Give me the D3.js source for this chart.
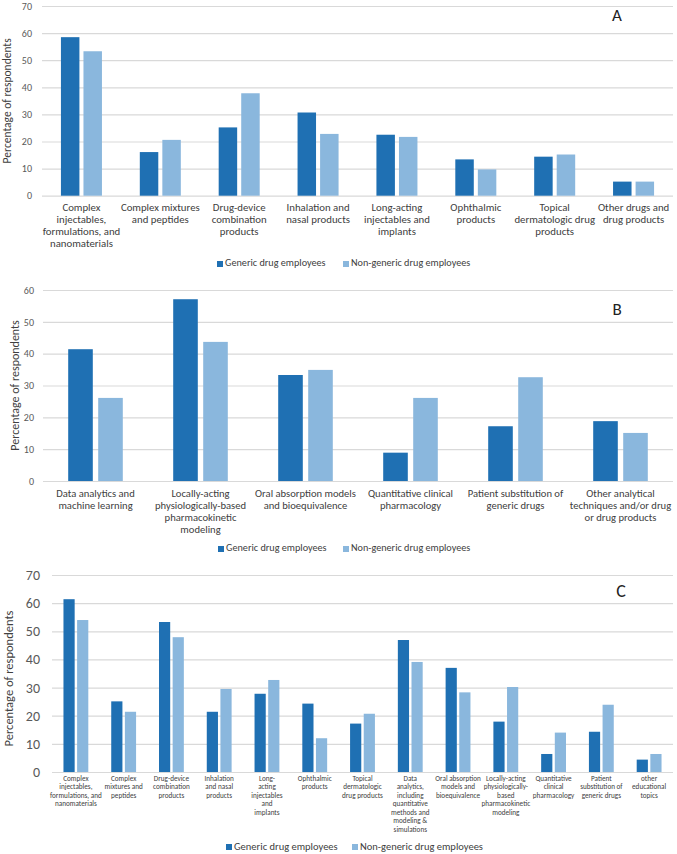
<!DOCTYPE html>
<html>
<head>
<meta charset="utf-8">
<script src="https://cdn.jsdelivr.net/npm/d3@7"></script>
<style>
  html, body { margin: 0; padding: 0; background: #fff; }
  svg text { font-family: Carlito, Calibri, Lato, "Open Sans", sans-serif; }
</style>
</head>
<body>
<svg id="chart" width="677" height="854"></svg>
<script>
// ---------- DATA ----------
const seriesNames = ["Generic drug employees", "Non-generic drug employees"];

const categoriesA = [
  "Complex|injectables,|formulations, and|nanomaterials",
  "Complex mixtures|and peptides",
  "Drug-device|combination|products",
  "Inhalation and|nasal products",
  "Long-acting|injectables and|implants",
  "Ophthalmic|products",
  "Topical|dermatologic drug|products",
  "Other drugs and|drug products"
];
const genericA    = [58.5, 16.1, 25.2, 30.7, 22.5, 13.4, 14.4, 5.2];
const nonGenericA = [53.3, 20.6, 37.8, 22.8, 21.7, 9.7, 15.2, 5.2];
const ticksA = [0, 10, 20, 30, 40, 50, 60, 70];

const categoriesB = [
  "Data analytics and|machine learning",
  "Locally-acting|physiologically-based|pharmacokinetic|modeling",
  "Oral absorption models|and bioequivalence",
  "Quantitative clinical|pharmacology",
  "Patient substitution of|generic drugs",
  "Other analytical|techniques and/or drug|or drug products"
];
const genericB    = [41.4, 57.1, 33.3, 8.9, 17.2, 18.8];
const nonGenericB = [26.1, 43.7, 34.9, 26.1, 32.6, 15.1];
const ticksB = [0, 10, 20, 30, 40, 50, 60];

const categoriesC = [
  "Complex|injectables,|formulations, and|nanomaterials",
  "Complex|mixtures and|peptides",
  "Drug-device|combination|products",
  "Inhalation|and nasal|products",
  "Long-|acting|injectables|and|implants",
  "Ophthalmic|products",
  "Topical|dermatologic|drug products",
  "Data|analytics,|including|quantitative|methods and|modeling &|simulations",
  "Oral absorption|models and|bioequivalence",
  "Locally-acting|physiologically-|based|pharmacokinetic|modeling",
  "Quantitative|clinical|pharmacology",
  "Patient|substitution of|generic drugs",
  "other|educational|topics"
];
const genericC    = [61.4, 25.1, 53.3, 21.4, 27.8, 24.3, 17.2, 46.9, 37.0, 17.9, 6.4, 14.3, 4.4];
const nonGenericC = [54.0, 21.4, 47.9, 29.5, 32.7, 12.0, 20.7, 39.1, 28.3, 30.2, 14.0, 23.9, 6.4];
const ticksC = [0, 10, 20, 30, 40, 50, 60, 70];

// ---------- STYLE ----------
const colors = ["#1f70b3", "#8ab7dd"];
const gridColor = "#d9d9d9";
const textColor = "#404040";

const svg = d3.select("#chart");

function drawPanel(p) {
  const g = svg.append("g");
  const x0 = d3.scaleBand().domain(d3.range(p.cats.length)).range([p.left, p.right]).padding(0);
  const bw = x0.bandwidth();
  const x1 = d3.scaleBand().domain([0, 1]).range([bw * 0.24, bw * 0.76]).paddingInner(0.18).paddingOuter(0);
  const y = d3.scaleLinear().domain([0, d3.max(p.ticks)]).range([p.bottom, p.top]);

  const axis = d3.axisLeft(y).tickValues(p.ticks).tickSize(-(p.right - p.left)).tickPadding(p.tickPad);
  const ax = g.append("g").attr("transform", `translate(${p.left},0)`).call(axis);
  ax.select(".domain").remove();
  ax.selectAll(".tick line").attr("stroke", gridColor).attr("stroke-width", 1.2);
  ax.selectAll(".tick text").attr("fill", "#595959").style("font-size", p.tickFont + "px");

  const rows = p.cats.map((c, i) => ({ i, vals: [p.g[i], p.ng[i]] }));
  const grp = g.selectAll(".cat").data(rows).join("g")
    .attr("transform", d => `translate(${x0(d.i)},0)`);
  grp.selectAll("rect").data(d => d.vals.map((v, k) => ({ v, k }))).join("rect")
    .attr("x", d => x1(d.k))
    .attr("width", x1.bandwidth())
    .attr("y", d => y(d.v))
    .attr("height", d => y(0) - y(d.v))
    .attr("fill", d => colors[d.k]);

  const lab = g.selectAll(".lab").data(p.cats).join("text")
    .attr("text-anchor", "middle")
    .attr("fill", textColor)
    .style("font-size", p.catFont + "px")
    .attr("transform", (d, i) => `translate(${x0(i) + bw / 2},${p.labY})`);
  lab.each(function(d) {
    d3.select(this).selectAll("tspan").data(d.split("|")).join("tspan")
      .attr("x", 0).attr("y", (s, j) => j * p.lineH).text(s => s);
  });

  g.append("text")
    .attr("transform", `translate(${p.titleX},${(p.top + p.bottom) / 2 + p.titleDy}) rotate(-90)`)
    .attr("text-anchor", "middle").attr("dominant-baseline", "middle")
    .attr("fill", textColor).style("font-size", p.titleFont + "px")
    .text("Percentage of respondents");

  g.append("text").attr("x", p.letterX).attr("y", p.letterY)
    .attr("text-anchor", "middle").attr("dominant-baseline", "middle")
    .attr("fill", "#222").style("font-size", p.letterFont + "px").text(p.letter);

  const lg = g.selectAll(".leg").data(seriesNames).join("g")
    .attr("transform", (d, i) => `translate(${p.legX[i]},${p.legY})`);
  lg.append("rect").attr("x", 0).attr("y", -p.legSq / 2).attr("width", p.legSq).attr("height", p.legSq)
    .attr("fill", (d, i) => colors[i]);
  lg.append("text").attr("x", p.legSq + 2).attr("y", 0).attr("dominant-baseline", "middle")
    .attr("fill", textColor).style("font-size", p.legFont + "px").text(d => d);
}

drawPanel({
  cats: categoriesA, g: genericA, ng: nonGenericA, ticks: ticksA,
  left: 42, right: 673, top: 6, bottom: 195.7,
  tickPad: 10, tickFont: 10, catFont: 10.8, labY: 211, lineH: 12,
  titleX: 8, titleDy: 0, titleFont: 11.5,
  letter: "A", letterX: 617, letterY: 17, letterFont: 17,
  legX: [217, 343], legY: 264, legSq: 6, legFont: 10.2
});

drawPanel({
  cats: categoriesB, g: genericB, ng: nonGenericB, ticks: ticksB,
  left: 43, right: 673, top: 290, bottom: 481,
  tickPad: 9, tickFont: 10, catFont: 10.6, labY: 496.5, lineH: 12.3,
  titleX: 16, titleDy: 0, titleFont: 12,
  letter: "B", letterX: 617, letterY: 311, letterFont: 17,
  legX: [218, 343], legY: 549, legSq: 6, legFont: 10.2
});

drawPanel({
  cats: categoriesC, g: genericC, ng: nonGenericC, ticks: ticksC,
  left: 52, right: 673, top: 575, bottom: 772,
  tickPad: 12, tickFont: 14, catFont: 7.2, labY: 780.5, lineH: 8.5,
  titleX: 10, titleDy: 5, titleFont: 12.5,
  letter: "C", letterX: 621, letterY: 593, letterFont: 18,
  legX: [226, 352], legY: 847, legSq: 6, legFont: 10.5
});
</script>
</body>
</html>
